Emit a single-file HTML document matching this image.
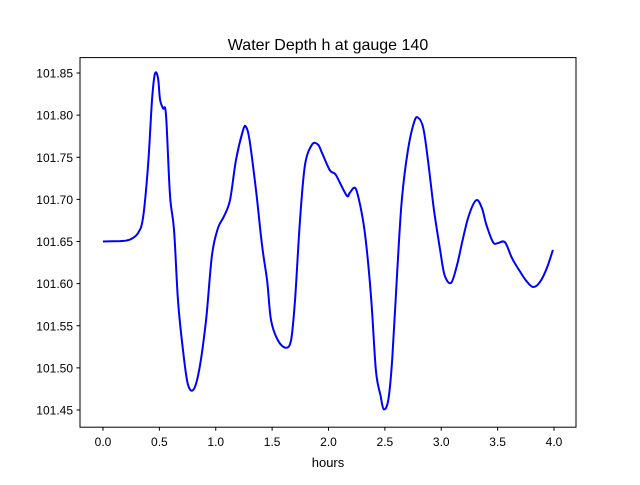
<!DOCTYPE html>
<html><head><meta charset="utf-8"><style>
body{margin:0;background:#fff}
svg text{font-family:"Liberation Sans","DejaVu Sans",sans-serif;fill:#000}
</style></head><body>
<svg id="chart" width="640" height="480" xmlns="http://www.w3.org/2000/svg">
<rect width="640" height="480" fill="#fff"/>
<text x="328" y="50" font-size="16" text-anchor="middle">Water Depth h at gauge 140</text>
<text x="328" y="467" font-size="13" text-anchor="middle">hours</text>
<g id="ticks"></g>
<path id="line" fill="none" stroke="#0000ff" stroke-width="2" stroke-linejoin="round"/>
<rect x="80" y="57.6" width="496" height="369.6" fill="none" stroke="#000" stroke-width="1"/>
</svg>
<script>
const hours=[0,0.15,0.2,0.25,0.31,0.355,0.40,0.435,0.46,0.488,0.506,0.532,0.559,0.594,0.63,0.665,0.71,0.754,0.807,0.86,0.914,0.967,1.02,1.073,1.126,1.18,1.242,1.268,1.30,1.357,1.41,1.455,1.49,1.55,1.62,1.668,1.703,1.747,1.792,1.854,1.907,1.94,2.01,2.06,2.1,2.165,2.19,2.24,2.29,2.33,2.38,2.42,2.46,2.49,2.53,2.565,2.61,2.65,2.705,2.76,2.794,2.84,2.882,2.936,2.99,3.03,3.087,3.14,3.19,3.245,3.31,3.36,3.40,3.46,3.5,3.565,3.628,3.70,3.75,3.814,3.876,3.938,3.99];
const depth=[101.65,101.6505,101.651,101.653,101.66,101.678,101.741,101.818,101.849,101.844,101.818,101.808,101.80,101.705,101.664,101.58,101.52,101.48,101.475,101.503,101.557,101.634,101.666,101.68,101.699,101.747,101.782,101.786,101.77,101.711,101.646,101.604,101.557,101.533,101.524,101.533,101.58,101.675,101.741,101.765,101.765,101.756,101.735,101.73,101.72,101.704,101.708,101.713,101.687,101.652,101.58,101.497,101.468,101.451,101.462,101.51,101.616,101.699,101.759,101.792,101.797,101.785,101.747,101.687,101.64,101.61,101.601,101.622,101.652,101.681,101.699,101.69,101.67,101.649,101.648,101.649,101.63,101.614,101.604,101.596,101.602,101.619,101.64];
const xTicks=[0,0.5,1,1.5,2,2.5,3,3.5,4];
const xTickLabels=["0.0","0.5","1.0","1.5","2.0","2.5","3.0","3.5","4.0"];
const yTicks=[101.45,101.5,101.55,101.6,101.65,101.7,101.75,101.8,101.85];
const yTickLabels=["101.45","101.50","101.55","101.60","101.65","101.70","101.75","101.80","101.85"];
const xs=t=>103+112.75*t;
const ys=v=>73+(101.85-v)*842.5;
const NS="http://www.w3.org/2000/svg";
const g=document.getElementById('ticks');
function mk(tag,attrs){const e=document.createElementNS(NS,tag);for(const k in attrs)e.setAttribute(k,attrs[k]);g.appendChild(e);return e;}
xTicks.forEach((t,i)=>{
  const l=mk('line',{x1:xs(t),x2:xs(t),y1:427.2,y2:430.7,stroke:'#000'});
  
  
  const tx=mk('text',{x:xs(t),y:446,'font-size':12,'text-anchor':'middle'});
  tx.textContent=xTickLabels[i];
  
  
});
yTicks.forEach((v,i)=>{
  const l=mk('line',{x1:76.5,x2:80,y1:ys(v),y2:ys(v),stroke:'#000'});
  
  
  const tx=mk('text',{x:73,y:ys(v)+4.5,'font-size':12,'text-anchor':'end'});
  tx.textContent=yTickLabels[i];
  
  
});
const P=hours.map((t,i)=>[xs(t),ys(depth[i])]);
let d='M'+P[0][0].toFixed(1)+','+P[0][1].toFixed(1);
for(let i=0;i<P.length-1;i++){
  const p0=P[Math.max(0,i-1)],p1=P[i],p2=P[i+1],p3=P[Math.min(P.length-1,i+2)];
  const c1=[p1[0]+(p2[0]-p0[0])/6,p1[1]+(p2[1]-p0[1])/6];
  const c2=[p2[0]-(p3[0]-p1[0])/6,p2[1]-(p3[1]-p1[1])/6];
  d+=' C'+c1[0].toFixed(1)+','+c1[1].toFixed(1)+' '+c2[0].toFixed(1)+','+c2[1].toFixed(1)+' '+p2[0].toFixed(1)+','+p2[1].toFixed(1);
}
document.getElementById('line').setAttribute('d',d);
</script>
</body></html>
